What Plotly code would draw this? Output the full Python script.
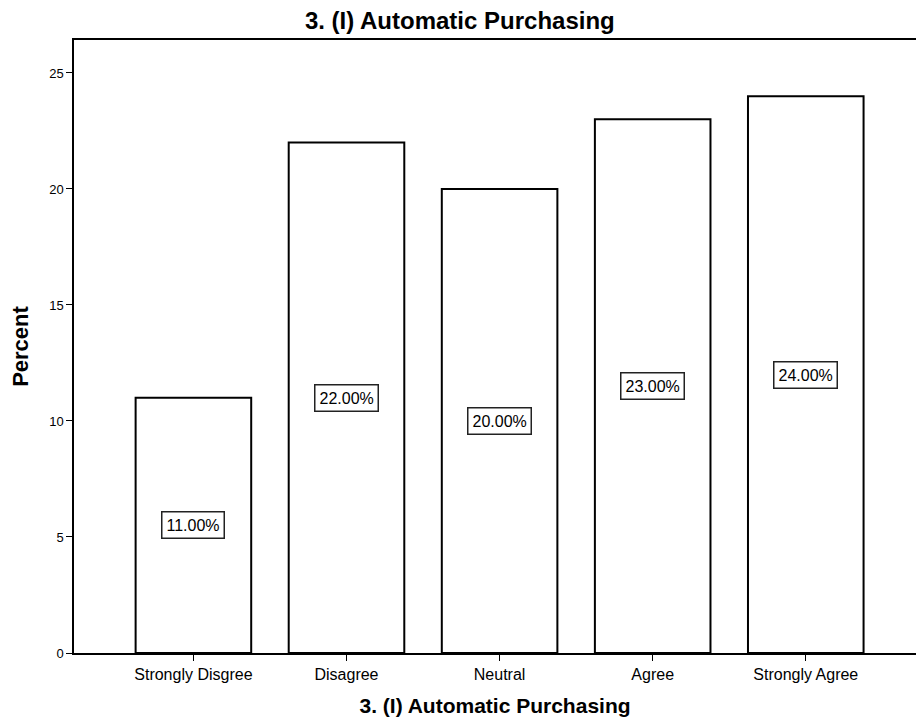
import plotly.graph_objects as go

categories = ["Strongly Disgree", "Disagree", "Neutral", "Agree", "Strongly Agree"]
percents = [11.0, 22.0, 20.0, 23.0, 24.0]
y_ticks = [0, 5, 10, 15, 20, 25]

title_text = "3. (I) Automatic Purchasing"
font_family = "Liberation Sans, Arial, sans-serif"

fig = go.Figure()
fig.add_trace(go.Bar(
    x=categories,
    y=percents,
    width=0.755,
    marker=dict(color="white", line=dict(color="black", width=2)),
    hoverinfo="x+y",
))

# Boxed value labels placed at mid-height of each bar
for cat, val in zip(categories, percents):
    fig.add_annotation(
        x=cat, y=val / 2, text=f"{val:.2f}%", showarrow=False,
        font=dict(family=font_family, size=16, color="black"),
        bordercolor="#222222", borderwidth=1.5, borderpad=4, bgcolor="white",
    )

fig.update_layout(
    width=916, height=725,
    margin=dict(l=74, r=0, t=40, b=72),
    paper_bgcolor="white", plot_bgcolor="white",
    showlegend=False,
    font=dict(family=font_family, color="black"),
    title=dict(text=f"<b>{title_text}</b>", xref="container", x=0.502,
               xanchor="center", y=0.971, yanchor="middle",
               font=dict(size=24)),
)
fig.update_xaxes(
    range=[-0.78, 4.72], showline=True, linecolor="black", linewidth=1.5,
    mirror=True, ticks="outside", ticklen=6, tickcolor="black",
    tickfont=dict(size=16), showgrid=False, zeroline=False,
    title=dict(text=f"<b>{title_text}</b>", font=dict(size=21), standoff=16),
)
fig.update_yaxes(
    range=[0, 26.42], tickvals=y_ticks, showline=True, linecolor="black",
    linewidth=1.5, ticks="outside", ticklen=6, tickcolor="black",
    tickfont=dict(size=13), showgrid=False, zeroline=False,
    title=dict(text="<b>Percent</b>", font=dict(size=22), standoff=14),
)

fig.write_html("out.html")
